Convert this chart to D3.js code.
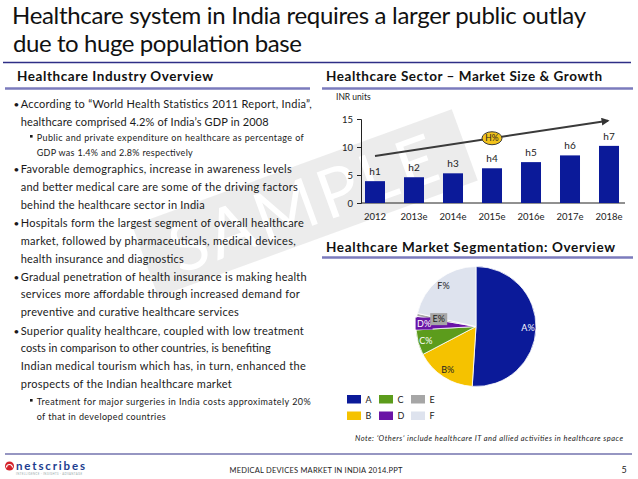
<!DOCTYPE html>
<html>
<head>
<meta charset="utf-8">
<script src="https://cdn.jsdelivr.net/npm/d3@7"></script>
<style>
  body { margin: 0; background: #fff; }
  svg { display: block; font-family: Lato, "Open Sans", sans-serif; }
</style>
</head>
<body>
<svg id="slide" width="638" height="479"></svg>
<script>
// bar chart data
const years = ["2012", "2013e", "2014e", "2015e", "2016e", "2017e", "2018e"];
const marketSize = [3.9, 4.6, 5.3, 6.2, 7.3, 8.5, 10.2];
const barLabels = ["h1", "h2", "h3", "h4", "h5", "h6", "h7"];
const yTicks = [0, 5, 10, 15];
const trendFrom = 8.4, trendTo = 14.7;   // arrow, in INR units
const cagrLabel = "H%";

// pie data
const segments = ["A", "B", "C", "D", "E", "F"];
const segmentShares = [51, 16.3, 6.8, 3.6, 0.8, 21.5];
const segmentLabels = ["A%", "B%", "C%", "D%", "E%", "F%"];
const segmentColors = ["#0b1a99", "#f5c200", "#5c9c1c", "#6a14a6", "#a6a6a6", "#dee3ee"];

const svg = d3.select("#slide");

// Watermark band behind everything
const wm = svg.append("g").attr("transform", "translate(305,203) rotate(-20)");
wm.append("rect")
    .attr("x", -170).attr("y", -38).attr("width", 340).attr("height", 76)
    .attr("fill", "#e9e9e9").attr("opacity", 0.85);
wm.append("text")
    .attr("text-anchor", "middle").attr("y", 24)
    .attr("font-size", 68).attr("fill", "#ffffff")
    .attr("letter-spacing", 4)
    .text("SAMPLE");

// Title
const title = ["Healthcare system in India requires a larger public outlay",
               "due to huge population base"];
svg.append("text").attr("x", 12).attr("y", 24).attr("font-size", 24)
    .attr("fill", "#111").attr("textLength", 574).text(title[0]);
svg.append("text").attr("x", 13).attr("y", 52).attr("font-size", 24)
    .attr("fill", "#111").attr("textLength", 289).text(title[1]);
svg.append("line").attr("x1", 3).attr("x2", 631).attr("y1", 62.5).attr("y2", 62.5)
    .attr("stroke", "#2e2e86").attr("stroke-width", 1.5);

// Section headers
function header(x, y, text, len, x1, x2, ruleY) {
    svg.append("text").attr("x", x).attr("y", y)
        .attr("font-size", 13.5).attr("font-weight", "bold").attr("fill", "#111")
        .attr("textLength", len).text(text);
    svg.append("line").attr("x1", x1).attr("x2", x2).attr("y1", ruleY).attr("y2", ruleY)
        .attr("stroke", "#7b7bbd").attr("stroke-width", 2.5);
}
header(17, 81, "Healthcare Industry Overview", 196, 5, 310, 88.5);
header(326, 81, "Healthcare Sector \u2013 Market Size & Growth", 276, 322, 633, 88.5);
header(326, 252, "Healthcare Market Segmentation: Overview", 289, 322, 633, 257.5);

// Left column bullets
const bullets = [
    ["m", 108, "According to \u201cWorld Health Statistics 2011 Report, India\u201d,", 291],
    ["c", 125.5, "healthcare comprised 4.2% of India\u2019s GDP in 2008", 248],
    ["s", 141, "Public and private expenditure on healthcare as percentage of", 267],
    ["sc", 156, "GDP was 1.4% and 2.8% respectively", 156],
    ["m", 173, "Favorable demographics, increase in awareness levels", 271],
    ["c", 191, "and better medical care are some of the driving factors", 277],
    ["c", 209, "behind the healthcare sector in India", 184],
    ["m", 227, "Hospitals form the largest segment of overall healthcare", 283],
    ["c", 245, "market, followed by pharmaceuticals, medical devices,", 275],
    ["c", 263, "health insurance and diagnostics", 163],
    ["m", 280.5, "Gradual penetration of health insurance is making health", 286],
    ["c", 298, "services more affordable through increased demand for", 279],
    ["c", 316, "preventive and curative healthcare services", 218],
    ["m", 334.5, "Superior quality healthcare, coupled with low treatment", 283],
    ["c", 352, "costs in comparison to other countries, is benefiting", 250],
    ["c", 370, "Indian medical tourism which has, in turn, enhanced the", 285],
    ["c", 388, "prospects of the Indian healthcare market", 211],
    ["s", 405, "Treatment for major surgeries in India costs approximately 20%", 274],
    ["sc", 420, "of that in developed countries", 129]
];
const left = svg.append("g").attr("fill", "#1a1a1a");
bullets.forEach(function(b) {
    const sub = b[0].startsWith("s");
    if (b[0] === "m") {
        left.append("text").attr("x", 13.5).attr("y", b[1]).attr("font-size", 10).text("\u2022");
    }
    if (b[0] === "s") {
        left.append("rect").attr("x", 30).attr("y", b[1] - 6).attr("width", 2.6).attr("height", 2.6);
    }
    left.append("text")
        .attr("x", sub ? 36.7 : 20.7).attr("y", b[1])
        .attr("font-size", sub ? 9 : 11)
        .attr("textLength", b[3])
        .text(b[2]);
});

// Bar chart
const x = d3.scaleBand().domain(years).range([355.5, 628.5]).paddingInner(0.487).paddingOuter(0.2435);
const y = d3.scaleLinear().domain([0, 15]).range([203, 119]);

const bars = svg.append("g");
bars.append("text").attr("x", 336).attr("y", 100).attr("font-size", 8.5).attr("fill", "#222").text("INR units");

const yAxis = bars.append("g")
    .attr("transform", "translate(361,0)")
    .call(d3.axisLeft(y).tickValues(yTicks).tickSize(4).tickPadding(4));
yAxis.selectAll("text").attr("font-size", 9.5).attr("fill", "#222").attr("font-family", "Lato");
yAxis.selectAll("line, path").attr("stroke", "#222");

const xAxis = bars.append("g")
    .attr("transform", "translate(0,203)")
    .call(d3.axisBottom(x).tickSize(0).tickPadding(10));
xAxis.select(".domain").attr("d", "M361,0H625").attr("stroke", "#222");
xAxis.selectAll("text").attr("font-size", 9.5).attr("fill", "#222").attr("font-family", "Lato");

bars.selectAll(".bar")
    .data(marketSize)
    .enter()
    .append("rect")
        .attr("class", "bar")
        .attr("x", (d, i) => x(years[i]))
        .attr("y", d => y(d))
        .attr("width", x.bandwidth())
        .attr("height", d => y(0) - y(d))
        .attr("fill", "#0b1a99");

bars.selectAll(".barlabel")
    .data(marketSize)
    .enter()
    .append("text")
        .attr("class", "barlabel")
        .attr("x", (d, i) => x(years[i]) + x.bandwidth() / 2)
        .attr("y", d => y(d) - 6)
        .attr("text-anchor", "middle")
        .attr("font-size", 10)
        .attr("fill", "#222")
        .text((d, i) => barLabels[i]);

// Trend arrow with CAGR bubble
const ax1 = x(years[0]) + x.bandwidth() / 2, ay1 = y(trendFrom);
const ax2 = x(years[6]) + x.bandwidth() / 2 - 1, ay2 = y(trendTo);
svg.append("defs").append("marker")
    .attr("id", "head").attr("viewBox", "0 0 10 10").attr("refX", 8).attr("refY", 5)
    .attr("markerWidth", 4).attr("markerHeight", 4).attr("orient", "auto")
    .append("path").attr("d", "M0,0L10,5L0,10z").attr("fill", "#333");
bars.append("line")
    .attr("x1", ax1).attr("y1", ay1).attr("x2", ax2).attr("y2", ay2)
    .attr("stroke", "#3a3a3a").attr("stroke-width", 2)
    .attr("marker-end", "url(#head)");
const cx = x(years[3]) + x.bandwidth() / 2;
const cy = ay1 + (ay2 - ay1) * (cx - ax1) / (ax2 - ax1);
bars.append("ellipse").attr("cx", cx).attr("cy", cy).attr("rx", 10).attr("ry", 6.5)
    .attr("fill", "#f2c21b").attr("stroke", "#3a3a3a").attr("stroke-width", 1);
bars.append("text").attr("x", cx).attr("y", cy + 3).attr("text-anchor", "middle")
    .attr("font-size", 8.5).attr("fill", "#222").text(cagrLabel);

// Pie chart
const pieG = svg.append("g").attr("transform", "translate(476,326.5)");
const pie = d3.pie().sort(null).value(d => d);
const arc = d3.arc().innerRadius(0).outerRadius(60);
const arcs = pie(segmentShares);
pieG.selectAll("path")
    .data(arcs)
    .enter()
    .append("path")
        .attr("d", arc)
        .attr("fill", (d, i) => segmentColors[i])
        .attr("stroke", "#fff")
        .attr("stroke-width", 0.8);

const labelArc = d3.arc().innerRadius(52).outerRadius(52);
const labelArcSmall = d3.arc().innerRadius(38).outerRadius(38);
const labelFill = ["#fff", "#222", "#fff", "#fff", "#222", "#222"];
arcs.forEach(function(a, i) {
    const c = (i === 4 ? labelArcSmall : labelArc).centroid(a);
    if (i === 3 || i === 4) {
        pieG.append("rect")
            .attr("x", c[0] - 8.5).attr("y", c[1] - 6).attr("width", 17).attr("height", 12)
            .attr("fill", segmentColors[i]);
    }
    pieG.append("text")
        .attr("x", c[0]).attr("y", c[1] + 3.3)
        .attr("text-anchor", "middle")
        .attr("font-size", 9)
        .attr("fill", labelFill[i])
        .text(segmentLabels[i]);
});

// Legend
const legend = svg.append("g");
segments.forEach(function(s, i) {
    const col = Math.floor(i / 2), row = i % 2;
    const lx = 347 + col * 32, ly = 395 + row * 16.5;
    legend.append("rect").attr("x", lx).attr("y", ly).attr("width", 14).attr("height", 8.5)
        .attr("fill", segmentColors[i]);
    legend.append("text").attr("x", lx + 18.5).attr("y", ly + 7.5)
        .attr("font-size", 9).attr("fill", "#222").text(s);
});

svg.append("text").attr("x", 355).attr("y", 441)
    .attr("font-size", 7.5).attr("font-style", "italic").attr("fill", "#222")
    .attr("textLength", 268)
    .text("Note: \u2018Others\u2019 include healthcare IT and allied activities in healthcare space");

// Footer
svg.append("line").attr("x1", 5).attr("x2", 632).attr("y1", 454).attr("y2", 454)
    .attr("stroke", "#2e2e86").attr("stroke-width", 1.2);
svg.append("circle").attr("cx", 9.5).attr("cy", 466).attr("r", 4.5).attr("fill", "#d4222a");
svg.append("path").attr("d", "M6.5,467.5a3,3 0 1,1 6,0").attr("fill", "none")
    .attr("stroke", "#fff").attr("stroke-width", 1.2);
svg.append("text").attr("x", 16).attr("y", 469.5).attr("font-size", 11.5)
    .attr("font-weight", "bold").attr("fill", "#1c3d8f").attr("textLength", 69).text("netscribes");
svg.append("text").attr("x", 16).attr("y", 474.5).attr("font-size", 2.8)
    .attr("fill", "#9aa").attr("textLength", 66).text("INTELLIGENCE · INSIGHTS · ADVANTAGE");
svg.append("text").attr("x", 316).attr("y", 473).attr("text-anchor", "middle")
    .attr("font-size", 7.5).attr("fill", "#222").attr("textLength", 173)
    .text("MEDICAL DEVICES MARKET IN INDIA 2014.PPT");
svg.append("text").attr("x", 624).attr("y", 473).attr("text-anchor", "middle")
    .attr("font-size", 9).attr("fill", "#222").text("5");
</script>
</body>
</html>
